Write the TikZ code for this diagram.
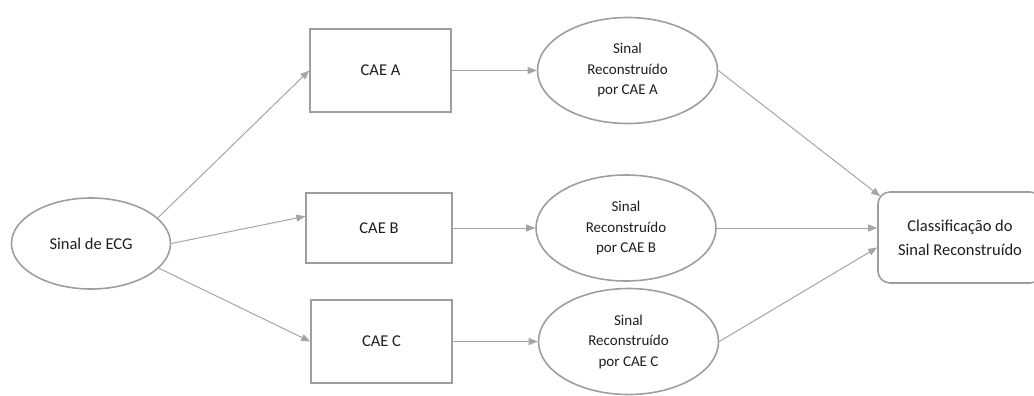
\documentclass[tikz,border=0pt]{standalone}
\usepackage{fontspec}
\setmainfont{Carlito}
\usepackage{xcolor}
\usetikzlibrary{shapes.geometric, arrows.meta, positioning}

\definecolor{shapegray}{RGB}{158,158,158}
\definecolor{linegray}{RGB}{165,165,165}
\definecolor{textgray}{RGB}{30,30,30}

\begin{document}
\begin{tikzpicture}[x=1pt, y=1pt, node distance=247pt,
  box/.style={rectangle, draw=shapegray, line width=1.6pt, text=textgray, minimum width=141pt, minimum height=83pt, font=\fontsize{16.5}{20}\selectfont},
  oval/.style={ellipse, draw=shapegray, line width=1.6pt, text=textgray, minimum width=180pt, minimum height=106pt, inner sep=0pt, align=center, font=\fontsize{15}{20.5}\selectfont},
  conn/.style={draw=linegray, line width=1pt, -{Triangle[length=9pt,width=7pt]}}]
\useasboundingbox (0,0) rectangle (1034,-396);

\node (ecg) [oval, minimum width=159pt, minimum height=91pt, font=\fontsize{16.5}{20}\selectfont] at (91,-243.5) {Sinal de ECG};
\node (caeA) [box, right of=ecg, xshift=42.5pt, yshift=173pt] {CAE A};
\node (caeB) [box, right of=ecg, xshift=41pt, yshift=15.5pt, minimum width=146pt, minimum height=70pt] {CAE B};
\node (caeC) [box, right of=ecg, xshift=43.5pt, yshift=-98pt] {CAE C};
\node (recA) [oval, right of=caeA] {Sinal\\Reconstruído\\por CAE A};
\node (recB) [oval, right of=caeB] {Sinal\\Reconstruído\\por CAE B};
\node (recC) [oval, right of=caeC] {Sinal\\Reconstruído\\por CAE C};
\node (cls) [rectangle, rounded corners=12pt, draw=shapegray, line width=1.6pt, text=textgray, minimum width=164pt, minimum height=91pt, align=center, font=\fontsize{16.5}{24}\selectfont, right of=recB, xshift=87pt, yshift=-9.5pt] {Classificação do\\Sinal Reconstruído};

\draw[conn] (ecg.21) -- (caeA.west);
\draw[conn] (ecg.east) -- (caeB.171);
\draw[conn] (ecg.-20) -- (caeC.west);
\draw[conn] (caeA) -- (recA);
\draw[conn] (caeB) -- (recB);
\draw[conn] (caeC) -- (recC);
\draw[conn] (recA.east) -- ([shift={(3pt,-5pt)}]cls.north west);
\draw[conn] (recB.east) -- ([yshift=9.5pt]cls.west);
\draw[conn] (recC.east) -- ([yshift=-10pt]cls.west);
\end{tikzpicture}
\end{document}
